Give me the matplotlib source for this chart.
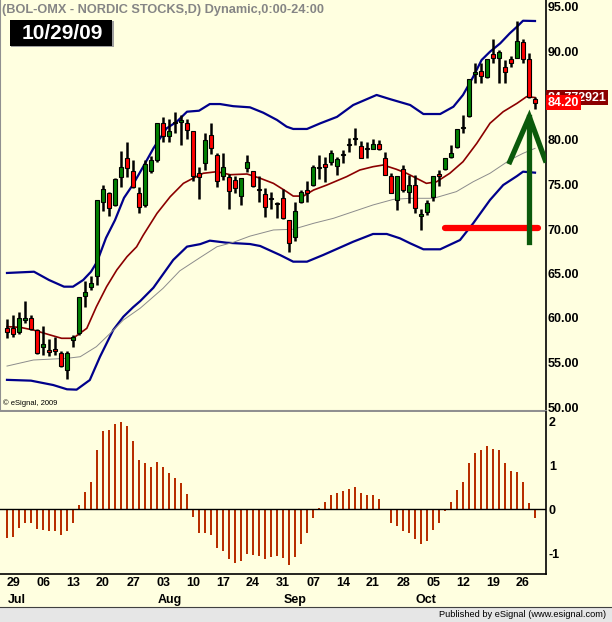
import numpy as np
import matplotlib.pyplot as plt
from matplotlib.patches import Rectangle
import matplotlib.transforms as mtransforms

plt.rcParams['font.family'] = ['Liberation Sans', 'DejaVu Sans']

# daily candles, 26 Jun - 28 Oct 2009 (bar index 0..88)
opens = [58.84, 58.92, 58.47, 59.78, 60.04, 58.65, 56.70, 56.40, 56.48, 56.03,
         54.16, 57.53, 58.35, 62.47, 63.45, 64.76, 73.07, 74.00, 72.70, 75.80,
         77.94, 76.52, 74.00, 72.70, 76.55, 77.75, 81.95, 80.45, 81.90, 82.00,
         81.95, 81.00, 76.25, 77.38, 80.56, 78.30, 75.95, 75.88, 75.50, 73.74,
         76.80, 76.52, 74.50, 73.90, 73.45, 72.90, 73.45, 71.00, 69.10, 73.07,
         74.38, 74.94, 76.85, 77.26, 77.57, 77.07, 78.30, 79.40, 80.10, 79.33,
         79.10, 78.95, 79.60, 77.94, 75.95, 73.26, 76.70, 74.20, 74.94, 71.50,
         71.95, 73.63, 76.18, 76.70, 78.13, 79.17, 81.30, 82.70, 87.45, 87.80,
         87.13, 89.63, 89.17, 88.16, 89.06, 89.17, 90.97, 89.06, 84.60]
highs = [59.85, 60.34, 60.64, 61.91, 60.34, 58.73, 59.05, 57.65, 57.83, 56.33,
         56.33, 58.09, 62.40, 64.16, 64.72, 73.26, 74.94, 74.20, 75.70, 78.80,
         79.74, 77.75, 74.68, 77.75, 78.20, 81.95, 82.55, 82.32, 83.18, 82.81,
         82.40, 81.00, 77.00, 80.75, 81.95, 78.58, 78.50, 76.18, 75.95, 75.70,
         78.30, 76.52, 75.95, 74.57, 74.20, 73.07, 74.46, 71.00, 73.07, 74.38,
         75.40, 77.20, 78.30, 78.05, 78.88, 78.13, 78.88, 80.19, 81.30, 79.90,
         79.80, 80.07, 79.99, 78.70, 76.25, 75.95, 77.20, 76.07, 76.07, 72.20,
         73.26, 75.95, 76.63, 77.94, 79.44, 81.20, 82.80, 86.80, 88.60, 88.60,
         89.06, 91.40, 90.10, 88.99, 89.44, 93.37, 91.35, 89.74, 84.80]
lows = [57.72, 57.90, 58.17, 59.40, 58.60, 55.90, 55.84, 55.70, 55.84, 54.46,
        53.10, 56.78, 58.05, 61.20, 63.20, 63.71, 72.06, 71.46, 72.60, 74.76,
        75.80, 74.57, 71.76, 72.50, 76.25, 77.57, 79.80, 79.80, 80.82, 79.44,
        80.07, 75.40, 73.33, 76.63, 78.40, 74.76, 75.55, 72.30, 74.08, 72.70,
        76.44, 74.76, 73.07, 71.39, 72.30, 71.25, 71.10, 67.45, 68.60, 72.90,
        73.07, 74.80, 75.60, 75.30, 77.20, 76.07, 77.38, 78.70, 79.44, 77.94,
        77.94, 78.95, 78.88, 76.07, 74.00, 72.13, 74.20, 72.88, 71.83, 69.89,
        71.57, 73.20, 74.83, 76.63, 77.94, 79.06, 80.75, 82.62, 86.44, 86.44,
        86.93, 88.70, 86.44, 86.44, 88.16, 89.17, 88.70, 84.68, 83.45]
closes = [58.43, 58.17, 60.04, 60.04, 58.73, 56.05, 57.06, 56.16, 56.25, 54.60,
          56.03, 57.90, 62.32, 62.92, 63.97, 73.26, 74.50, 72.32, 75.58, 76.93,
          76.80, 74.76, 72.50, 77.30, 77.75, 81.95, 80.45, 81.00, 82.00, 82.30,
          81.12, 75.95, 75.80, 80.00, 79.06, 75.40, 76.93, 74.30, 74.57, 75.70,
          77.57, 74.83, 74.40, 72.50, 73.35, 72.80, 71.20, 68.40, 72.00, 74.20,
          74.10, 76.93, 76.95, 77.00, 78.58, 77.83, 78.40, 79.50, 80.10, 78.00,
          79.00, 79.60, 78.95, 76.07, 74.00, 75.95, 74.38, 74.94, 72.32, 71.70,
          72.88, 75.95, 75.90, 77.94, 78.50, 81.20, 81.50, 86.80, 87.55, 87.20,
          89.06, 89.17, 89.93, 87.60, 88.70, 91.12, 89.06, 84.87, 84.20]

# oscillator histogram
osc = [-0.65, -0.62, -0.43, -0.30, -0.30, -0.45, -0.47, -0.50, -0.50, -0.59,
       -0.50, -0.32, 0.10, 0.39, 0.62, 1.34, 1.79, 1.81, 1.95, 1.99,
       1.90, 1.56, 1.11, 1.05, 0.96, 1.08, 0.96, 0.83, 0.72, 0.59,
       0.35, -0.17, -0.54, -0.53, -0.58, -0.88, -0.95, -1.14, -1.23, -1.18,
       -1.01, -1.03, -1.05, -1.13, -1.09, -1.05, -1.11, -1.26, -1.09, -0.78,
       -0.54, -0.20, 0.04, 0.17, 0.32, 0.38, 0.42, 0.47, 0.50, 0.38,
       0.32, 0.32, 0.24, 0.01, -0.32, -0.39, -0.50, -0.53, -0.68, -0.78,
       -0.73, -0.48, -0.30, -0.03, 0.17, 0.45, 0.62, 1.05, 1.28, 1.34,
       1.43, 1.38, 1.34, 1.05, 0.86, 0.85, 0.62, 0.14, -0.20]

# bollinger bands / averages (bar index, price)
upper_x = [0, 4.5, 7, 9.5, 11, 12.7, 14, 15, 16.5, 18, 19.5, 21, 22.7, 24.4, 26.6, 28.3,
           30, 32, 33.8, 35.5, 37.7, 40.5, 42.7, 45, 46.6, 47.7, 50, 52.2, 55, 57.7,
           61.6, 63.8, 67.2, 69.4, 72.2, 74.4, 76, 77.7, 79.1, 80.5, 82.2, 83.8, 85, 86, 88]
upper_y = [65.06, 65.2, 64.27, 63.52, 63.52, 64.27, 65.2, 66.3, 69.0, 71.0, 73.5, 75.0, 77.0,
           79.06, 81.31, 82.06, 83.18, 83.29, 84.04, 84.04, 83.8, 83.67, 83.07, 82.25, 81.5,
           81.24, 81.24, 81.87, 82.6, 83.93, 85.06, 84.6, 83.93, 82.92, 82.92, 83.74, 85.06,
           87.1, 88.99, 89.92, 90.86, 91.99, 92.73, 93.4, 93.37]
lower_x = [0, 4, 7.7, 10, 11.6, 13.8, 15.5, 17.7, 19.4, 21, 22.2, 24.4, 27.7, 30, 32.2, 33.8,
           36.6, 40.5, 42.2, 45.5, 47.7, 50, 52.7, 57.7, 61, 63.3, 65.5, 67.2, 69.4, 72.2,
           75.5, 77.7, 80.5, 82.7, 85, 86, 88]
lower_y = [53.05, 52.96, 52.47, 51.99, 51.95, 53.03, 55.65, 58.65, 60.15, 61.2, 61.9, 63.4,
           66.52, 68.02, 68.3, 68.69, 68.46, 68.31, 68.09, 67.08, 66.33, 66.33, 67.08, 68.57,
           69.44, 69.44, 68.95, 68.39, 67.72, 67.72, 68.76, 70.64, 73.26, 74.94, 75.95, 76.44,
           76.33]
mid_x = [0, 2.2, 4.4, 7.2, 9.1, 11, 13.3, 14.9, 16.6, 18.3, 20, 21.6, 22.7, 25, 27.2, 29.4,
         31, 32.7, 35, 37.2, 40, 42.2, 44.4, 46.6, 47.7, 49.4, 51.1, 53.3, 56.6, 58.8, 61,
         62.7, 64.9, 66.6, 68.8, 69.9, 71.6, 73.8, 76, 78.3, 80.5, 82.7, 85, 86.6, 88]
mid_y = [59.03, 58.95, 58.65, 58.09, 57.72, 57.72, 58.84, 61.27, 63.52, 65.4, 66.89, 68.0,
         69.3, 71.76, 73.63, 75.13, 75.7, 76.26, 76.44, 76.1, 76.18, 75.7, 75.13, 74.2, 73.7,
         73.7, 74.38, 74.94, 75.88, 76.63, 77.0, 77.19, 76.71, 76.26, 75.51, 75.13, 75.31,
         76.26, 77.56, 79.63, 81.88, 83.18, 84.12, 84.87, 84.77]
slow_x = [0, 4.4, 10, 12.2, 14.9, 17.2, 19.4, 22.2, 26, 28.8, 32.2, 35, 37.7, 40.5, 44.4,
          47.7, 51.1, 54.4, 57.7, 61, 64.4, 67.2, 71.1, 74.9, 77.7, 80.5, 83.8, 86, 88]
slow_y = [54.6, 55.28, 55.47, 55.65, 56.78, 58.28, 59.78, 61.1, 63.33, 65.3, 66.8, 68.01,
          68.5, 69.2, 69.89, 69.97, 70.64, 71.2, 71.95, 72.7, 73.33, 73.45, 73.45, 74.2,
          75.31, 76.26, 77.75, 78.5, 79.06]

# hand drawn annotations
support_x = [73, 88.5]
support_y = [70.1, 70.1]
arrow_shaft_x = [87.05, 87.05]
arrow_shaft_y = [68.57, 82.62]
arrow_head_x = [83.8, 87.05, 89.7]
arrow_head_y = [77.56, 82.62, 77.75]

day_idx = [1, 6, 11, 16, 21, 26, 31, 36, 41, 46, 51, 56, 61, 66, 71, 76, 81, 86]
day_labels = ['29', '06', '13', '20', '27', '03', '10', '17', '24', '31',
              '07', '14', '21', '28', '05', '12', '19', '26']
month_idx = [1, 26, 47, 69]
month_labels = ['Jul', 'Aug', 'Sep', 'Oct']

bg = '#FFFFE0'
W, H = 612, 622
fig = plt.figure(figsize=(W / 100, H / 100), dpi=100, facecolor=bg)

ax = fig.add_axes([0, 1 - 411 / H, 546 / W, 411 / H], facecolor=bg)
ax2 = fig.add_axes([0, 1 - 574 / H, 546 / W, 162 / H], facecolor=bg)

x = np.arange(len(opens))
o = np.array(opens); c = np.array(closes)
h = np.array(highs); l = np.array(lows)

# bands
ax.plot(upper_x, upper_y, color='#00008B', lw=1.6, zorder=2)
ax.plot(lower_x, lower_y, color='#00008B', lw=1.6, zorder=2)
ax.plot(mid_x, mid_y, color='#8B0000', lw=1.2, zorder=2)
ax.plot(slow_x, slow_y, color='#8C8C8C', lw=0.7, zorder=2)

# candles
ax.vlines(x, l, h, color='black', lw=1.8, zorder=3)
up = c >= o
body_lo = np.minimum(o, c)
body_h = np.maximum(np.abs(c - o), 0.15)
ax.bar(x[up], body_h[up], bottom=body_lo[up], width=0.68, color='#008000',
       edgecolor='black', lw=0.8, zorder=4)
ax.bar(x[~up], body_h[~up], bottom=body_lo[~up], width=0.68, color='#FF0000',
       edgecolor='black', lw=0.8, zorder=4)

# annotations
ax.plot(support_x, support_y, color='#FF0000', lw=4.5, solid_capstyle='round', zorder=5)
ax.plot(arrow_shaft_x, arrow_shaft_y, color='#0B5A0B', lw=3.8, zorder=5)
ax.plot(arrow_head_x, arrow_head_y, color='#0B5A0B', lw=3.8, zorder=5,
        solid_joinstyle='miter')

xlim = (-7 / 6, (546 - 7) / 6)
ax.set_xlim(*xlim)
ax.set_ylim(90 - 360 / 8.9, 90 + 51 / 8.9)
ax.set_xticks([])
ax.yaxis.tick_right()
ax.set_yticks(np.arange(50, 96, 5))
ax.set_yticklabels(['%.2f' % v for v in np.arange(50, 96, 5)])
ax.tick_params(axis='y', length=0, pad=1, labelsize=9)
for t in ax.get_yticklabels():
    t.set_fontweight('bold')
ax.spines['top'].set_visible(False)
ax.spines['left'].set_color('#909090')
ax.spines['left'].set_linewidth(1.5)
ax.spines['right'].set_color('black')
ax.spines['right'].set_linewidth(1.2)
ax.spines['bottom'].set_color('#909090')
ax.spines['bottom'].set_linewidth(1.5)

# oscillator
ax2.bar(x, osc, width=0.33, color='#B82E00', lw=0)
ax2.axhline(0, color='black', lw=1)
ax2.set_xlim(*xlim)
ax2.set_ylim(-(574 - 509.3) / 44, (509.3 - 412) / 44)
ax2.set_xticks([])
ax2.yaxis.tick_right()
ax2.set_yticks([2, 1, 0, -1])
ax2.set_yticklabels(['2', '1', '0', '-1'])
ax2.tick_params(axis='y', length=0, pad=2, labelsize=9)
for t in ax2.get_yticklabels():
    t.set_fontweight('bold')
ax2.spines['top'].set_visible(False)
ax2.spines['left'].set_visible(False)
ax2.spines['right'].set_linewidth(1.2)
ax2.spines['bottom'].set_linewidth(1.2)

trans = mtransforms.blended_transform_factory(ax2.transData, ax2.transAxes)
for i, lab in zip(day_idx, day_labels):
    ax2.text(i, -9 / 162, lab, transform=trans, ha='center', va='center',
             fontsize=9, fontweight='bold')
for i, lab in zip(month_idx, month_labels):
    ax2.text(i - 0.9, -26 / 162, lab, transform=trans, ha='left', va='center',
             fontsize=9, fontweight='bold')

# last value boxes (they overlap on the original too)
ptrans = mtransforms.blended_transform_factory(ax.transAxes, ax.transData)
ax.text(1.003, mid_y[-1], '84.772921', transform=ptrans, ha='left', va='center',
        color='white', fontsize=9, fontweight='bold',
        bbox=dict(boxstyle='square,pad=0.12', fc='#8B0000', ec='none'))
ax.text(1.003, closes[-1], '84.20', transform=ptrans, ha='left', va='center',
        color='white', fontsize=9, fontweight='bold',
        bbox=dict(boxstyle='square,pad=0.12', fc='#FF0000', ec='none'))

# header and date box
fig.text(2 / W, 1 - 10 / H, '(BOL-OMX - NORDIC STOCKS,D) Dynamic,0:00-24:00',
         color='#858585', fontsize=9.2, fontweight='bold', va='center', ha='left')
fig.add_artist(Rectangle((11 / W, 1 - 47 / H), 103 / W, 26 / H,
                         transform=fig.transFigure, fc='#A0A0A0', ec='none'))
fig.add_artist(Rectangle((10 / W, 1 - 46 / H), 102 / W, 26 / H,
                         transform=fig.transFigure, fc='black', ec='none'))
fig.text(62 / W, 1 - 33.5 / H, '10/29/09', color='white', fontsize=15,
         fontweight='bold', ha='center', va='center')
fig.text(3 / W, 1 - 403 / H, '\u00a9 eSignal, 2009', fontsize=5.5, va='center')

# footer
fax = fig.add_axes([0, 0, 1, 15 / H], facecolor='#E6E6E6')
fax.set_xticks([]); fax.set_yticks([])
for s in ['left', 'right', 'bottom']:
    fax.spines[s].set_visible(False)
fax.spines['top'].set_color('#404040')
fax.text(0.99, 0.5, 'Published by eSignal (www.esignal.com)', ha='right', va='center',
         fontsize=6.7, transform=fax.transAxes)

fig.savefig('out.png', dpi=100, facecolor=bg)
